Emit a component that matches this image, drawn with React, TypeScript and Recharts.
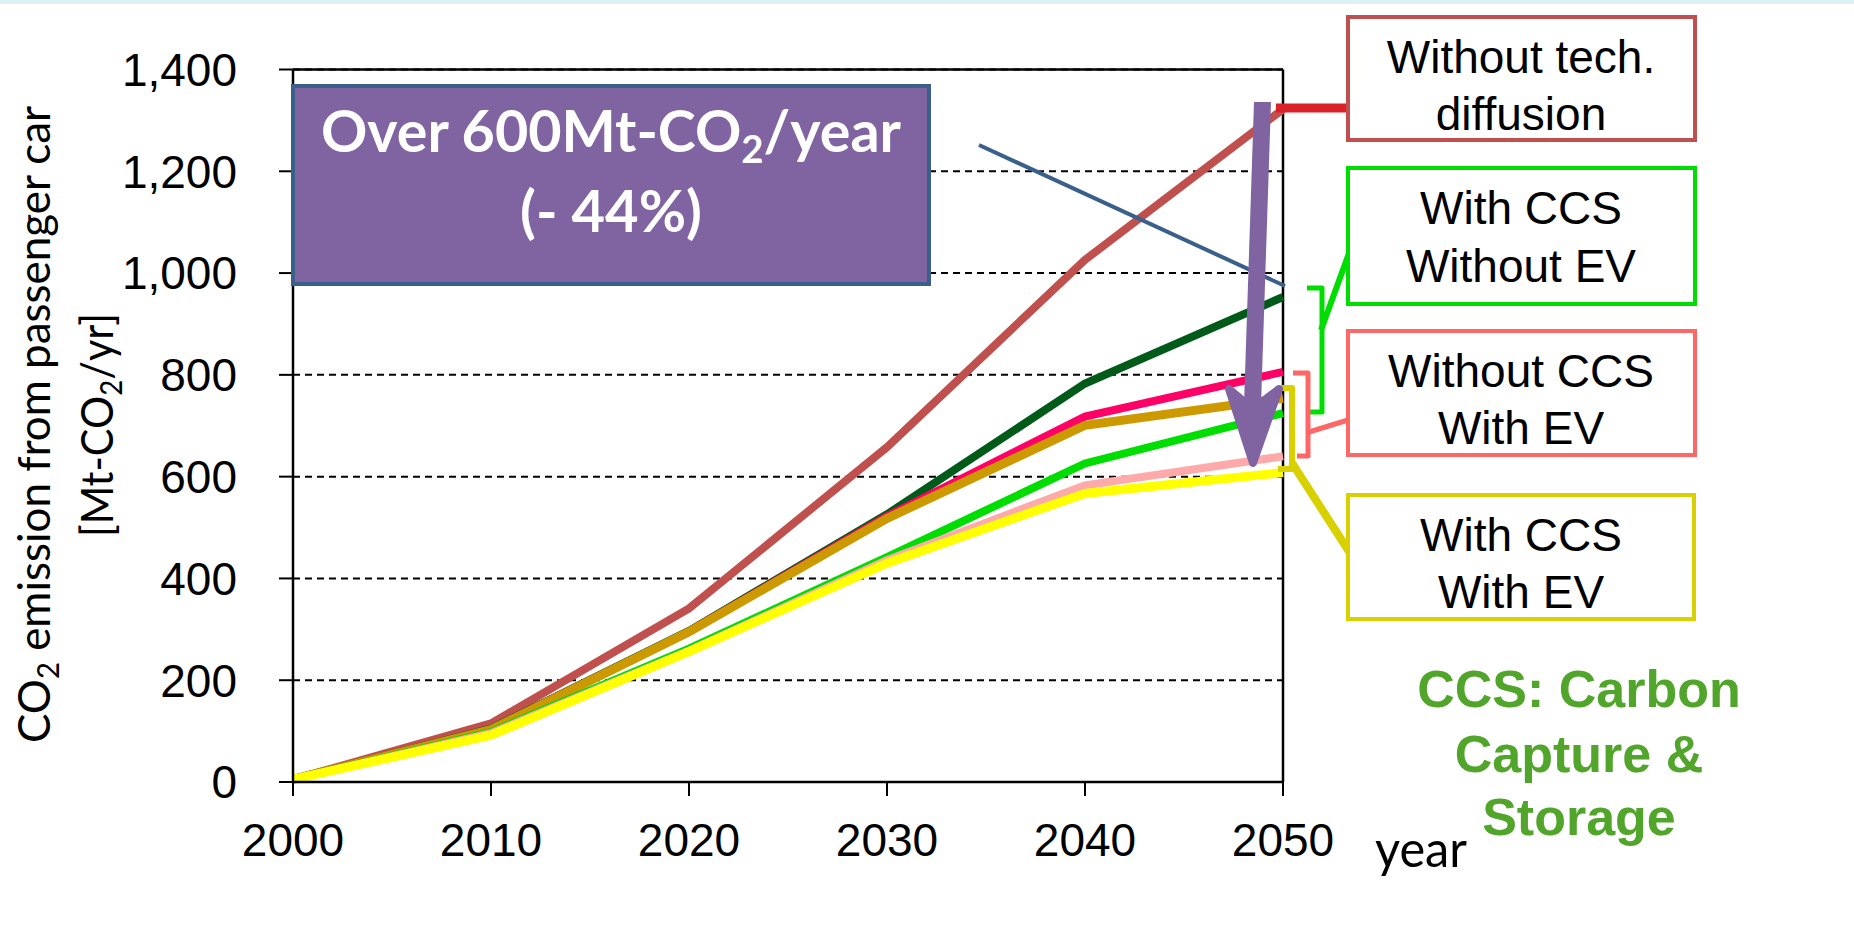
import React from "react";
import { LineChart, Line, XAxis, YAxis, CartesianGrid, ReferenceLine } from "recharts";

const years = [2000, 2010, 2020, 2030, 2040, 2050];
const yTicks = [0, 200, 400, 600, 800, 1000, 1200, 1400];

const withoutTech = [5, 115, 341, 658, 1026, 1322];
const ccsNoEvHigh = [5, 105, 297, 526, 783, 953];
const noCcsEvHigh = [5, 103, 296, 522, 718, 806];
const ccsEvHigh = [5, 103, 295, 518, 701, 754];
const ccsNoEvLow = [5, 98, 262, 442, 626, 725];
const noCcsEvLow = [5, 96, 258, 436, 583, 640];
const ccsEvLow = [5, 92, 256, 430, 567, 608];

const seriesInfo = [
  { key: "withoutTech", name: "Without tech. diffusion", values: withoutTech, color: "#C0504D", width: 8 },
  { key: "ccsNoEvHigh", name: "With CCS Without EV (high)", values: ccsNoEvHigh, color: "#005A1A", width: 8 },
  { key: "noCcsEvHigh", name: "Without CCS With EV (high)", values: noCcsEvHigh, color: "#FF0066", width: 8 },
  { key: "ccsEvHigh", name: "With CCS With EV (high)", values: ccsEvHigh, color: "#CC9900", width: 9 },
  { key: "ccsNoEvLow", name: "With CCS Without EV (low)", values: ccsNoEvLow, color: "#00DD00", width: 8 },
  { key: "noCcsEvLow", name: "Without CCS With EV (low)", values: noCcsEvLow, color: "#FFAAAA", width: 8 },
  { key: "ccsEvLow", name: "With CCS With EV (low)", values: ccsEvLow, color: "#FFFF00", width: 9 },
];

const data = years.map((year, i) => {
  const row: Record<string, number> = { year };
  seriesInfo.forEach((s) => {
    row[s.key] = s.values[i];
  });
  return row;
});

const ARIAL = "'Liberation Sans', Arial, sans-serif";
const CALIBRI = "Lato, 'Open Sans', sans-serif";

const fmt = (v: number) => v.toLocaleString("en-US");

function Overlay() {
  const boxText = { fontFamily: ARIAL, fontSize: 46, fill: "#000", textAnchor: "middle" as const };
  return (
    <svg
      width={1854}
      height={930}
      style={{ position: "absolute", left: 0, top: 0, pointerEvents: "none" }}
    >
      {/* top band */}
      <rect x={0} y={0} width={1854} height={4} fill="#DDF2F7" />

      {/* y axis title */}
      <text
        transform="translate(50,424.5) rotate(-90)"
        textAnchor="middle"
        fontFamily={CALIBRI}
        fontSize={45}
        fill="#000"
        textLength={637}
        lengthAdjust="spacingAndGlyphs"
      >
        CO<tspan fontSize={30} dy={9}>2</tspan>
        <tspan dy={-9}> emission from passenger car</tspan>
      </text>
      <text
        transform="translate(113,425) rotate(-90)"
        textAnchor="middle"
        fontFamily={CALIBRI}
        fontSize={45}
        fill="#000"
        textLength={224}
        lengthAdjust="spacingAndGlyphs"
      >
        [Mt-CO<tspan fontSize={30} dy={9}>2</tspan>
        <tspan dy={-9}>/yr]</tspan>
      </text>

      {/* purple callout */}
      <rect x={293} y={86} width={636} height={198} fill="#8064A2" stroke="#3A5F8B" strokeWidth={4} />
      <text
        x={611}
        y={152}
        textAnchor="middle"
        fontFamily={CALIBRI}
        fontWeight="bold"
        fontSize={57}
        fill="#fff"
        textLength={580}
        lengthAdjust="spacingAndGlyphs"
      >
        Over 600Mt-CO<tspan fontSize={38} dy={11}>2</tspan>
        <tspan dy={-11}>/year</tspan>
      </text>
      <text
        x={611}
        y={232}
        textAnchor="middle"
        fontFamily={CALIBRI}
        fontWeight="bold"
        fontSize={57}
        fill="#fff"
        textLength={182}
        lengthAdjust="spacingAndGlyphs"
      >
        (- 44%)
      </text>

      {/* blue pointer line */}
      <line x1={979} y1={145} x2={1285} y2={286} stroke="#3A5F8B" strokeWidth={4} />

      {/* red connector */}
      <line x1={1276} y1={108} x2={1348} y2={108} stroke="#DC2028" strokeWidth={9} />

      {/* brackets */}
      <polyline points="1307,288 1322,288 1322,412 1307,412" fill="none" stroke="#00DD00" strokeWidth={5} strokeLinejoin="round" />
      <line x1={1321} y1={330} x2={1352} y2={245} stroke="#00DD00" strokeWidth={6} />
      <polyline points="1293,373 1308,373 1308,456 1297,456" fill="none" stroke="#FF6666" strokeWidth={5} strokeLinejoin="round" />
      <line x1={1309} y1={432} x2={1348} y2={420} stroke="#FF6666" strokeWidth={5} />
      <polyline points="1278,388 1292,388 1292,469 1278,469" fill="none" stroke="#D9D000" strokeWidth={6} strokeLinejoin="round" />
      <line x1={1292} y1={463} x2={1350} y2={553} stroke="#D9D000" strokeWidth={8} />

      {/* purple arrow */}
      <polygon points="1254,102 1271,102 1261,405 1244,405" fill="#8064A2" />
      <polygon
        points="1229,389 1253,463 1279,389 1253,409"
        fill="#8064A2"
        stroke="#8064A2"
        strokeWidth={8}
        strokeLinejoin="round"
      />

      {/* legend boxes */}
      <rect x={1348} y={17} width={347} height={123} fill="#fff" stroke="#C0504D" strokeWidth={4} />
      <text x={1521} y={73} {...boxText}>Without tech.</text>
      <text x={1521} y={130} {...boxText}>diffusion</text>

      <rect x={1348} y={168} width={347} height={136} fill="#fff" stroke="#00DD00" strokeWidth={4} />
      <text x={1521} y={224} {...boxText}>With CCS</text>
      <text x={1521} y={282} {...boxText}>Without EV</text>

      <rect x={1348} y={331} width={347} height={124} fill="#fff" stroke="#FF6666" strokeWidth={4} />
      <text x={1521} y={387} {...boxText}>Without CCS</text>
      <text x={1521} y={444} {...boxText}>With EV</text>

      <rect x={1348} y={495} width={346} height={124} fill="#fff" stroke="#D9D000" strokeWidth={4} />
      <text x={1521} y={551} {...boxText}>With CCS</text>
      <text x={1521} y={608} {...boxText}>With EV</text>

      {/* CCS note */}
      <g fontFamily={ARIAL} fontWeight="bold" fontSize={52} fill="#50A52A" textAnchor="middle">
        <text x={1579} y={707}>CCS: Carbon</text>
        <text x={1579} y={772}>Capture &amp;</text>
        <text x={1579} y={835}>Storage</text>
      </g>

      {/* x axis title */}
      <text x={1375} y={867} fontFamily={CALIBRI} fontSize={50} fill="#000" textLength={92} lengthAdjust="spacingAndGlyphs">
        year
      </text>
    </svg>
  );
}

export default function App() {
  return (
    <div style={{ position: "absolute", left: 0, top: 0, width: 1854, height: 930, background: "#fff", overflow: "hidden" }}>
      <LineChart
        width={1854}
        height={930}
        data={data}
        margin={{ top: 69.5, right: 571, bottom: 48, left: 93 }}
      >
        <CartesianGrid horizontal={true} vertical={false} stroke="#000" strokeWidth={2} strokeDasharray="7 5" />
        <XAxis
          dataKey="year"
          type="number"
          domain={[2000, 2050]}
          ticks={years}
          height={100}
          tickSize={14}
          tickMargin={27}
          axisLine={{ stroke: "#000", strokeWidth: 2.5 }}
          tickLine={{ stroke: "#000", strokeWidth: 2 }}
          tick={{ fontFamily: ARIAL, fontSize: 46, fill: "#000" }}
          interval={0}
        />
        <YAxis
          type="number"
          domain={[0, 1400]}
          ticks={yTicks}
          width={200}
          tickSize={14}
          tickMargin={42}
          tickFormatter={fmt}
          axisLine={{ stroke: "#000", strokeWidth: 2.5 }}
          tickLine={{ stroke: "#000", strokeWidth: 2 }}
          tick={{ fontFamily: ARIAL, fontSize: 46, fill: "#000" }}
          interval={0}
        />
        <ReferenceLine y={1400} stroke="#000" strokeWidth={2.5} />
        <ReferenceLine x={2050} stroke="#000" strokeWidth={2.5} />
        {seriesInfo.map((s) => (
          <Line
            key={s.key}
            type="linear"
            dataKey={s.key}
            name={s.name}
            stroke={s.color}
            strokeWidth={s.width}
            dot={false}
            activeDot={false}
            isAnimationActive={false}
          />
        ))}
      </LineChart>
      <Overlay />
    </div>
  );
}
